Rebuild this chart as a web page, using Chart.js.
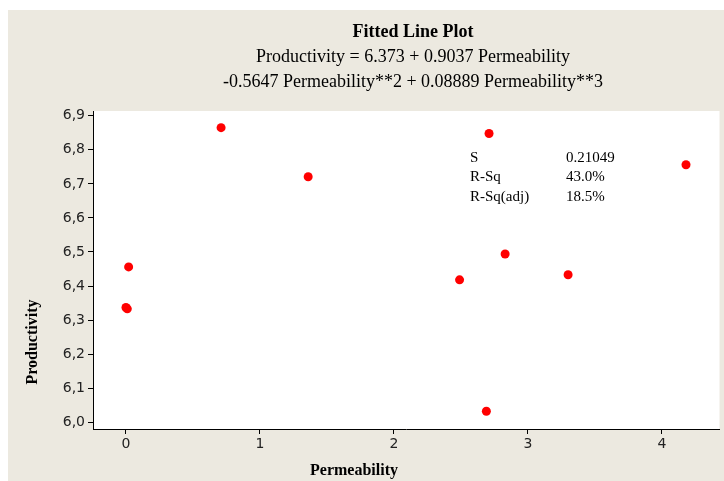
<!DOCTYPE html>
<html lang="en">
<head>
<meta charset="UTF-8">
<title>Fitted Line Plot</title>
<script src="https://cdn.jsdelivr.net/npm/chart.js"></script>
<style>
  html, body { margin: 0; padding: 0; background: #fff; }
</style>
</head>
<body>
<canvas id="fitChart" width="724" height="481"></canvas>
<script>
// values
const permeability = [0.00, 0.01, 0.02, 0.71, 1.36, 2.49, 2.69, 2.71, 2.83, 3.30, 4.18];
const productivity = [6.337, 6.333, 6.456, 6.865, 6.721, 6.418, 6.032, 6.848, 6.494, 6.433, 6.756];

const xTicks = [0, 1, 2, 3, 4];
const yTicks = [6.0, 6.1, 6.2, 6.3, 6.4, 6.5, 6.6, 6.7, 6.8, 6.9];

const titleLines = [
    'Fitted Line Plot',
    'Productivity = 6.373 + 0.9037 Permeability',
    '-0.5647 Permeability**2 + 0.08889 Permeability**3'
];
const statNames = ['S', 'R-Sq', 'R-Sq(adj)'];
const statValues = ['0.21049', '43.0%', '18.5%'];

const beige = '#ece9e0';
const serif = '"Liberation Serif", "Times New Roman", serif';

const framePlugin = {
    id: 'frame',
    beforeDraw(chart) {
        const ctx = chart.ctx;
        const a = chart.chartArea;
        ctx.save();
        ctx.fillStyle = '#fff';
        ctx.fillRect(0, 0, chart.width, chart.height);
        ctx.fillStyle = beige;
        ctx.fillRect(8, 10, chart.width - 8, chart.height - 10);
        ctx.fillStyle = '#fff';
        ctx.fillRect(a.left, a.top, a.right - a.left, a.bottom - a.top);
        ctx.restore();
    },
    afterDraw(chart) {
        const ctx = chart.ctx;
        ctx.save();
        ctx.fillStyle = '#000';
        ctx.textBaseline = 'middle';

        // title block
        ctx.textAlign = 'center';
        ctx.font = 'bold 18px ' + serif;
        ctx.fillText(titleLines[0], 413, 32);
        ctx.font = '18px ' + serif;
        ctx.fillText(titleLines[1], 413, 57);
        ctx.fillText(titleLines[2], 413, 82);

        // fit statistics
        ctx.textAlign = 'left';
        ctx.font = '15px ' + serif;
        statNames.forEach((s, i) => {
            ctx.fillText(s, 470, 158 + i * 19.5);
            ctx.fillText(statValues[i], 566, 158 + i * 19.5);
        });

        // axis titles
        ctx.font = 'bold 16px ' + serif;
        ctx.textAlign = 'center';
        ctx.fillText('Permeability', 354, 471);
        ctx.translate(33, 342);
        ctx.rotate(-Math.PI / 2);
        ctx.fillText('Productivity', 0, 0);
        ctx.restore();
    }
};

const tickFont = { family: '"DejaVu Sans", Verdana, sans-serif', size: 14 };

new Chart(document.getElementById('fitChart'), {
    type: 'scatter',
    data: {
        datasets: [{
            data: permeability.map((p, i) => ({ x: p, y: productivity[i] })),
            backgroundColor: '#ff0000',
            borderWidth: 0,
            pointRadius: 4.5
        }]
    },
    options: {
        responsive: false,
        animation: false,
        layout: { padding: { left: 8, top: 111, right: 4, bottom: 0 } },
        plugins: {
            legend: { display: false },
            tooltip: { enabled: false }
        },
        scales: {
            x: {
                type: 'linear',
                min: -0.246,
                max: 4.43,
                afterBuildTicks: s => { s.ticks = xTicks.map(v => ({ value: v })); },
                afterFit: s => { s.height = 52; },
                ticks: { font: tickFont, color: '#222', padding: 2, maxRotation: 0 },
                grid: { drawOnChartArea: false, color: '#000', tickLength: 5 },
                border: { color: '#000', width: 1 }
            },
            y: {
                min: 5.98,
                max: 6.914,
                afterBuildTicks: s => { s.ticks = yTicks.map(v => ({ value: v })); },
                afterFit: s => { s.width = 85; },
                ticks: {
                    font: tickFont,
                    color: '#222',
                    padding: 3,
                    callback: v => v.toFixed(1).replace('.', ',')
                },
                grid: { drawOnChartArea: false, color: '#000', tickLength: 5 },
                border: { color: '#000', width: 1 }
            }
        }
    },
    plugins: [framePlugin]
});
</script>
</body>
</html>
